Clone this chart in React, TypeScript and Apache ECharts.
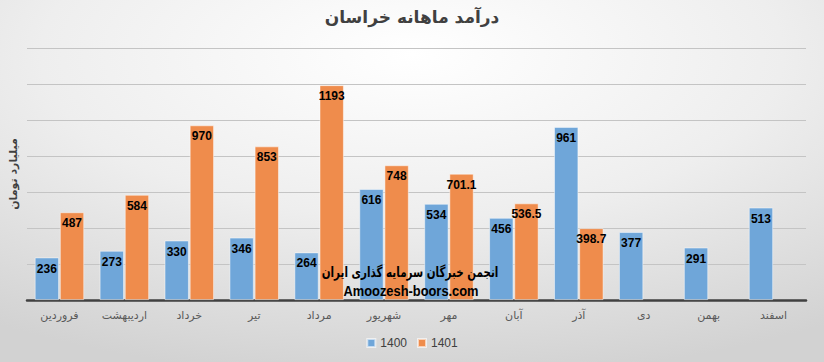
import React, { useEffect, useRef } from "react";
import * as echarts from "echarts";

const categories = ["فروردین", "اردیبهشت", "خرداد", "تیر", "مرداد", "شهریور", "مهر", "آبان", "آذر", "دی", "بهمن", "اسفند"];
const series1400 = [236, 273, 330, 346, 264, 616, 534, 456, 961, 377, 291, 513];
const series1401: (number | null)[] = [487, 584, 970, 853, 1193, 748, 701.1, 536.5, 398.7, null, null, null];
const seriesNames = ["1400", "1401"];
const titleText = "درآمد ماهانه خراسان";
const yAxisName = "میلیارد تومان";
const watermark1 = "انجمن خبرگان سرمایه گذاری ایران";
const watermark2 = "Amoozesh-boors.com";

export default function App() {
  const ref = useRef<HTMLDivElement>(null);
  useEffect(() => {
    if (!ref.current) return;
    const chart = echarts.init(ref.current, undefined, { renderer: "svg" });
    const labelStyle = {
      show: true,
      position: "insideTop" as const,
      distance: 5,
      color: "#000",
      fontWeight: "bold" as const,
      fontSize: 12,
      fontFamily: "Liberation Sans Narrow, Arial Narrow, Liberation Sans, sans-serif",
    };
    chart.setOption({
      animation: false,
      backgroundColor: new echarts.graphic.RadialGradient(0.5, 0.15, 0.9, [
        { offset: 0, color: "#ffffff" },
        { offset: 0.5, color: "#eeeeee" },
        { offset: 1, color: "#d2d2d2" },
      ]),
      title: {
        text: titleText,
        left: "center",
        top: 3,
        textStyle: { fontSize: 17, fontWeight: "bold", color: "#404040", fontFamily: "DejaVu Sans, Noto Sans, sans-serif" },
      },
      legend: {
        data: seriesNames,
        bottom: 8,
        left: "center",
        itemWidth: 8,
        itemHeight: 8,
        icon: "rect",
        itemGap: 10,
        textStyle: { color: "#404040", fontSize: 12, fontFamily: "Liberation Sans Narrow, Liberation Sans, sans-serif" },
      },
      grid: { left: 26, right: 18, top: 48, bottom: 62 },
      xAxis: {
        type: "category",
        data: categories,
        axisLine: { lineStyle: { color: "#404040", width: 2.5 } },
        axisTick: { show: false },
        axisLabel: { color: "#595959", fontSize: 11, margin: 10, fontFamily: "DejaVu Sans, Noto Sans, sans-serif" },
      },
      yAxis: {
        type: "value",
        min: 0,
        max: 1400,
        interval: 200,
        name: yAxisName,
        nameLocation: "middle",
        nameGap: 8,
        nameRotate: 90,
        nameTextStyle: { color: "#404040", fontSize: 11, fontWeight: "bold", fontFamily: "DejaVu Sans, Noto Sans, sans-serif" },
        axisLabel: { show: false },
        axisLine: { show: false },
        axisTick: { show: false },
        splitLine: { lineStyle: { color: "#c4c4c4", width: 1 } },
      },
      series: [
        {
          name: seriesNames[0],
          type: "bar",
          data: series1400,
          barGap: "4%",
          barCategoryGap: "24%",
          itemStyle: { color: "#6fa6d9", borderColor: "rgba(255,255,255,0.6)", borderWidth: 0.8 },
          label: labelStyle,
        },
        {
          name: seriesNames[1],
          type: "bar",
          data: series1401,
          itemStyle: { color: "#ef8c4c", borderColor: "rgba(255,255,255,0.6)", borderWidth: 0.8 },
          label: labelStyle,
        },
      ],
      graphic: [
        {
          type: "text",
          x: 410,
          y: 272,
          scaleX: 0.74,
          z: 100,
          style: {
            text: watermark1,
            fill: "#000",
            font: "bold 14px DejaVu Sans, Noto Sans, sans-serif",
            textAlign: "center",
            textVerticalAlign: "middle",
          },
        },
        {
          type: "text",
          x: 411,
          y: 291,
          scaleX: 0.92,
          z: 100,
          style: {
            text: watermark2,
            fill: "#000",
            font: "bold 14px Liberation Sans Narrow, Liberation Sans, sans-serif",
            textAlign: "center",
            textVerticalAlign: "middle",
          },
        },
      ],
    });
    return () => chart.dispose();
  }, []);
  return <div ref={ref} style={{ width: 824, height: 362, position: "absolute", left: 0, top: 0 }} />;
}
